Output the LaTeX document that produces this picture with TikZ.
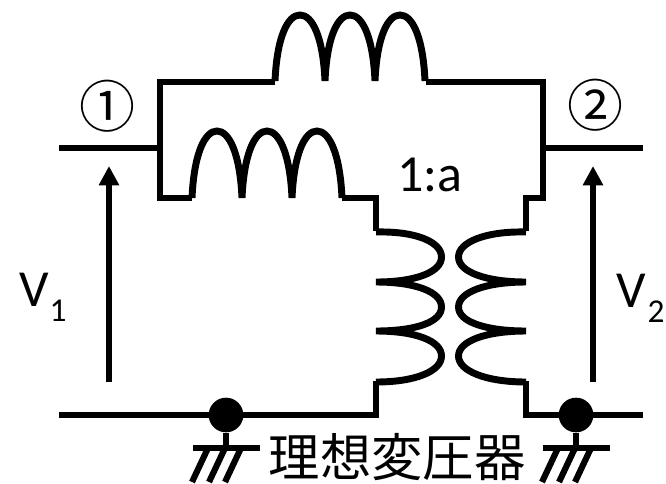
\documentclass[tikz,border=0pt]{standalone}
\usepackage{fontspec}
\setmainfont{Carlito}
\newfontfamily\cjk{Noto Sans CJK JP}
\usetikzlibrary{arrows.meta}
\tikzset{
  wire/.style={line width=5.2pt,line cap=butt,line join=miter},
  coil/.style={line width=5.2pt,line cap=butt},
  hatch/.style={line width=4.6pt},
  varrow/.style={line width=4.9pt,-{Triangle[length=14.5pt,width=14.5pt]}},
  dotn/.style={circle,fill=black,inner sep=0pt,minimum size=26pt},
  lab/.style={inner sep=0pt,font=\fontsize{39}{39}\selectfont},
  sub/.style={inner sep=0pt,font=\fontsize{25}{25}\selectfont},
}
\newcommand{\hump}[3]{(#1,#2) .. controls (#1+2,#2-45) and (#1+13,#3) .. (#1+25,#3) .. controls (#1+37,#3) and (#1+48,#2-45) .. (#1+50,#2)}
\begin{document}
\begin{tikzpicture}[x=0.75pt,y=-0.75pt]
\useasboundingbox (0,0) rectangle (666,483);
\coordinate (t1) at (59,148); \coordinate (t1j) at (157,148);
\coordinate (t2) at (643,148); \coordinate (t2j) at (546,148);
\coordinate (b1) at (59,415); \coordinate (b2) at (643,415);
\coordinate (a1b) at (109,382); \coordinate (a1t) at (109,166);
\coordinate (a2b) at (593,382); \coordinate (a2t) at (593,166);
% terminals
\draw[wire] (t1) -- (t1j);
\draw[wire] (t2j) -- (t2);
% top branch
\draw[wire] (275,82) -- (160,82) -- (160,198) -- (192,198);
\draw[wire] (426,82) -- (543,82) -- (543,198) -- (526,198) -- (526,231);
\draw[wire] (342,198) -- (376,198) -- (376,231);
\draw[coil] \hump{275}{81}{15} \hump{325}{81}{15} \hump{375}{81}{15};
\draw[coil] \hump{192}{198}{131} \hump{242}{198}{131} \hump{292}{198}{131};
% transformer
\draw[coil] (376,232) .. controls (416,231) and (441.5,242) .. (441.5,257) .. controls (441.5,272) and (416,282) .. (376,282)
 .. controls (416,282) and (441.5,292) .. (441.5,307) .. controls (441.5,322) and (416,331) .. (376,331)
 .. controls (416,331) and (441.5,341) .. (441.5,356) .. controls (441.5,371) and (416,382) .. (376,382);
\draw[coil] (526,232) .. controls (486,231) and (458.5,242) .. (458.5,257) .. controls (458.5,272) and (486,282) .. (526,282)
 .. controls (486,282) and (458.5,292) .. (458.5,307) .. controls (458.5,322) and (486,331) .. (526,331)
 .. controls (486,331) and (458.5,341) .. (458.5,356) .. controls (458.5,371) and (486,382) .. (526,382);
\draw[wire] (b1) -- (376,415) -- (376,381);
\draw[wire] (b2) -- (526,415) -- (526,381);
% dots and ground
\node[dotn] (d1) at (226,415) {};
\node[dotn] (d2) at (576,415) {};
\coordinate (g1) at (226,448); \coordinate (g2) at (576,448);
\draw[hatch] (d1) -- (g1);
\draw[hatch] (d2) -- (g2);
\draw[wire] (193,448) -- (260,448);
\draw[wire] (543,448) -- (610,448);
\foreach \x in {0,17,33}{
  \draw[hatch] (192+\x,482) -- (208+\x,448);
  \draw[hatch] (542+\x,482) -- (558+\x,448);
}
% arrows
\draw[varrow] (a1b) -- (a1t);
\draw[varrow] (a2b) -- (a2t);
% text
\node[inner sep=0pt,font=\cjk\fontsize{42}{42}\selectfont] (n1) at (107,106) {①};
\node[inner sep=0pt,font=\cjk\fontsize{42}{42}\selectfont] (n2) at (595,105) {②};
\node[lab] (ratio) at (430,175) {1:a};
\node[lab] (v1) at (34,290) {V};
\node[sub] (s1) at (58,311) {1};
\node[lab] (v2) at (631,291) {V};
\node[sub] (s2) at (656,312) {2};
\node[inner sep=0pt,font=\cjk\fontsize{38.5}{38.5}\selectfont] (cap) at (397,457) {理想変圧器};
\end{tikzpicture}
\end{document}
